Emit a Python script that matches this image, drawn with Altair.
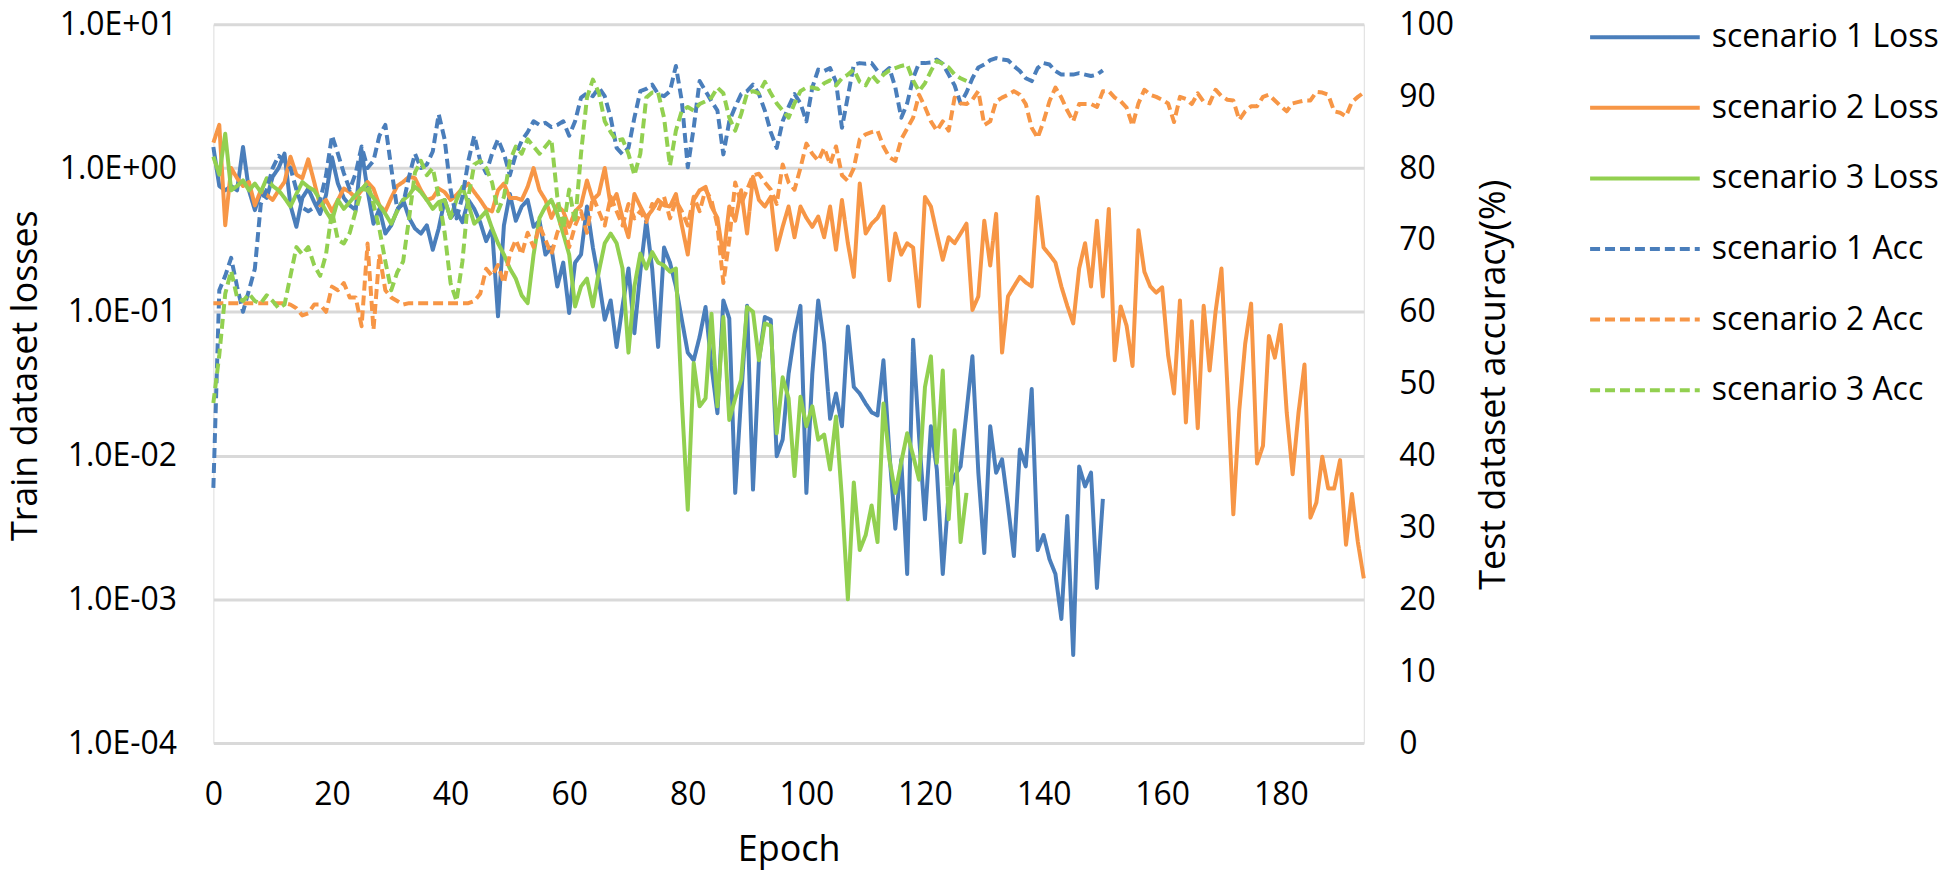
import altair as alt
import pandas as pd

series_names = ["scenario 1 Loss", "scenario 2 Loss", "scenario 3 Loss",
                "scenario 1 Acc", "scenario 2 Acc", "scenario 3 Acc"]
series_colors = ["#4a7ebb", "#f79646", "#92d050", "#4a7ebb", "#f79646", "#92d050"]
series_dashes = [[1, 0], [1, 0], [1, 0], [10, 5], [10, 5], [10, 5]]

loss_ticks = [1e-4, 1e-3, 1e-2, 1e-1, 1, 10]
acc_ticks = [0, 10, 20, 30, 40, 50, 60, 70, 80, 90, 100]
epoch_ticks = [0, 20, 40, 60, 80, 100, 120, 140, 160, 180]

# scenario 1 loss, epochs 0..150
s1_loss = [
    1.4, 0.75, 0.7, 0.75, 0.7, 1.4, 0.7, 0.51, 0.68, 0.62,
    0.87, 1.0, 1.26, 0.55, 0.39, 0.62, 0.72, 0.58, 0.48, 0.65,
    1.19, 0.78, 0.62, 0.55, 0.51, 1.33, 0.7, 0.41, 0.52, 0.35,
    0.4, 0.51, 0.6, 0.45, 0.38, 0.35, 0.4, 0.27, 0.38, 0.6,
    0.45, 0.5, 0.42, 0.6, 0.52, 0.42, 0.31, 0.38, 0.093, 0.4,
    0.66, 0.43, 0.54, 0.6, 0.39, 0.43, 0.25, 0.28, 0.15, 0.22,
    0.098, 0.22, 0.25, 0.54, 0.28, 0.166, 0.088, 0.12, 0.057, 0.11,
    0.2, 0.071, 0.19, 0.43, 0.2, 0.057, 0.28, 0.22, 0.15, 0.088,
    0.052, 0.046, 0.067, 0.108, 0.042, 0.0197, 0.12, 0.09, 0.0055, 0.0257,
    0.11, 0.0058, 0.046, 0.092, 0.088, 0.0099, 0.0129, 0.037, 0.07, 0.11,
    0.0055, 0.037, 0.12, 0.06, 0.018, 0.027, 0.016, 0.079, 0.03, 0.027,
    0.023, 0.02, 0.019, 0.046, 0.0104, 0.0031, 0.0094, 0.0015, 0.064, 0.0136,
    0.0036, 0.016, 0.008, 0.0015, 0.0055, 0.0072, 0.0084, 0.02, 0.049, 0.0076,
    0.0021, 0.016, 0.0076, 0.0094, 0.0045, 0.002, 0.011, 0.0084, 0.029, 0.0022,
    0.0028, 0.0019, 0.0015, 0.00073, 0.0038, 0.00041, 0.0084, 0.0061, 0.0076, 0.0012, 0.005,
]

# scenario 2 loss, epochs 0..194
s2_loss = [
    1.5, 2.0, 0.4, 1.0, 0.85, 0.75, 0.8, 0.55, 0.7, 0.65,
    0.6, 0.7, 0.8, 1.2, 0.9, 0.85, 1.15, 0.8, 0.55, 0.6,
    0.5, 0.6, 0.72, 0.68, 0.62, 0.7, 0.8, 0.72, 0.55, 0.5,
    0.62, 0.75, 0.8, 0.87, 0.85, 0.7, 0.6, 0.62, 0.72, 0.68,
    0.6, 0.65, 0.72, 0.78, 0.68, 0.6, 0.52, 0.5, 0.7, 0.78,
    0.62, 0.62, 0.6, 0.74, 1.0, 0.7, 0.6, 0.45, 0.55, 0.5,
    0.39, 0.5, 0.55, 0.82, 0.6, 0.66, 1.0, 0.55, 0.66, 0.45,
    0.33, 0.66, 0.54, 0.45, 0.51, 0.6, 0.55, 0.54, 0.66, 0.4,
    0.25, 0.6, 0.7, 0.74, 0.54, 0.45, 0.24, 0.54, 0.43, 0.7,
    0.35, 0.87, 0.6, 0.54, 0.63, 0.27, 0.39, 0.54, 0.33, 0.54,
    0.45, 0.39, 0.46, 0.33, 0.54, 0.27, 0.6, 0.3, 0.175, 0.78,
    0.35, 0.41, 0.45, 0.54, 0.166, 0.35, 0.25, 0.3, 0.28, 0.109,
    0.63, 0.54, 0.35, 0.23, 0.33, 0.3, 0.35, 0.41, 0.103, 0.128,
    0.43, 0.21, 0.48, 0.052, 0.128, 0.15, 0.175, 0.16, 0.15, 0.63,
    0.28, 0.25, 0.22, 0.15, 0.11, 0.083, 0.2, 0.3, 0.15, 0.43,
    0.128, 0.52, 0.046, 0.109, 0.08, 0.042, 0.37, 0.19, 0.15, 0.136,
    0.148, 0.05, 0.027, 0.12, 0.017, 0.086, 0.0155, 0.11, 0.039, 0.1,
    0.2, 0.03, 0.0039, 0.0206, 0.06, 0.114, 0.0088, 0.0117, 0.068, 0.048,
    0.081, 0.02, 0.0074, 0.02, 0.043, 0.0037, 0.0047, 0.0098, 0.0059, 0.0059,
    0.0093, 0.0024, 0.0054, 0.0025, 0.0014,
]

# scenario 3 loss, epochs 0..127
s3_loss = [
    1.2, 0.9, 1.73, 0.7, 0.75, 0.82, 0.7, 0.78, 0.68, 0.85,
    0.75, 0.7, 0.62, 0.54, 0.66, 0.8, 0.74, 0.7, 0.6, 0.5,
    0.43, 0.6, 0.52, 0.58, 0.65, 0.72, 0.7, 0.62, 0.55, 0.48,
    0.41, 0.5, 0.6, 0.65, 0.74, 0.68, 0.6, 0.52, 0.58, 0.6,
    0.45, 0.6, 0.74, 0.56, 0.41, 0.45, 0.5, 0.38, 0.3, 0.25,
    0.2, 0.17, 0.13, 0.115, 0.25, 0.45, 0.54, 0.6, 0.48, 0.35,
    0.25, 0.109, 0.15, 0.17, 0.109, 0.19, 0.3, 0.35, 0.3, 0.2,
    0.052, 0.15, 0.254, 0.2, 0.26, 0.22, 0.21, 0.19, 0.2, 0.024,
    0.0042, 0.044, 0.022, 0.025, 0.097, 0.022, 0.092, 0.0177, 0.025, 0.0336,
    0.108, 0.1, 0.046, 0.083, 0.08, 0.0143, 0.035, 0.025, 0.0072, 0.0257,
    0.016, 0.022, 0.0129, 0.014, 0.008, 0.0187, 0.005, 0.001, 0.0065, 0.0022,
    0.0028, 0.0045, 0.0025, 0.023, 0.0094, 0.0055, 0.009, 0.0143, 0.01, 0.0068,
    0.03, 0.049, 0.0089, 0.039, 0.0036, 0.015, 0.0025, 0.0055,
]

# scenario 1 accuracy (%), epochs 0..150
s1_acc = [
    35.5, 63, 65, 67.5, 63.5, 60, 63, 66, 75, 77,
    80, 81.7, 81, 80, 77, 74.5, 74, 74.5, 75.5, 79,
    84.5, 82, 79.3, 77, 79.3, 83, 80, 81, 84.5, 86,
    80, 74.3, 75, 78.8, 82, 80, 80.5, 82.3, 87.5, 84,
    77, 73, 76, 81, 84.5, 81, 79.3, 82, 84, 82,
    79, 81.9, 83.8, 85, 86.5, 86, 86.3, 85.7, 86, 86.5,
    84.5, 86.5, 89.8, 90.4, 90, 91.2, 90, 87, 82.8, 81.9,
    82.8, 87, 90.7, 91, 91.6, 90.3, 90, 90.7, 94.2, 89.3,
    80.1, 85.6, 92.1, 90.7, 89.3, 88, 81.9, 86.5, 88.5, 90.3,
    90.7, 91.6, 90.3, 88, 85, 82.8, 86.5, 88.5, 90.3, 89,
    86.5, 91.2, 93.7, 93.5, 93.9, 92, 85.6, 90, 94.4, 94.6,
    94.5, 94.6, 93.5, 93.2, 93.9, 91.2, 87, 89, 92.5, 94.6,
    94.6, 94.7, 95.1, 94.5, 93, 91.5, 89, 90.5, 92.5, 94,
    94.4, 95, 95.3, 95.1, 95, 94.2, 93.5, 92.5, 92.1, 93.9,
    94.6, 94.4, 93.5, 93, 93, 93, 93.2, 93, 92.8, 93, 93.6,
]

# scenario 2 accuracy (%), epochs 0..194
s2_acc = [
    61.2, 61.2, 61.2, 61.2, 61.2, 61.2, 61.2, 61.2, 61.2, 61.2,
    61.2, 61.2, 61.2, 61, 60.5, 59.5, 59.8, 61, 61, 60,
    63.5, 63, 64, 62, 62, 58, 69.5, 57.5, 68, 63,
    62, 61.5, 61, 61.2, 61.2, 61.2, 61.2, 61.2, 61.2, 61.2,
    61.2, 61.2, 61.2, 61.2, 61.5, 62.5, 66, 65, 66.5, 64,
    68, 70, 68, 71, 69, 72, 70, 68, 71, 73,
    69, 72, 74, 71, 76, 74, 72, 76, 74, 72,
    75, 73, 74, 72.5, 75, 74, 76, 73, 75.5, 74,
    72, 76, 74, 77, 75.5, 72, 64, 70, 78, 75,
    77, 79, 79.2, 78, 77, 75, 80.5, 78, 77, 80,
    83.4, 82, 81, 82.8, 80.5, 83, 79, 78.2, 80, 84,
    84.7, 85, 85.2, 83, 81.5, 81, 84, 85.5, 87, 90.2,
    88.5, 86.5, 85.2, 86.5, 85.2, 89.8, 89, 88.9, 89.5, 90.7,
    86, 86.5, 89.3, 89.8, 90.2, 90.7, 90.2, 88.9, 85.6, 84.2,
    86.5, 89.3, 91.2, 89.8, 88, 86.5, 88.9, 88.9, 88.9, 88.5,
    90.7, 90.7, 89.8, 89.3, 88.4, 85.9, 89, 90.9, 90.2, 89.9,
    89.5, 89, 86.4, 89.9, 89.6, 88.9, 90.4, 89.2, 89, 90.9,
    90, 89.5, 89.4, 86.7, 87.9, 88.6, 88.6, 89.9, 90.2, 89.4,
    88.6, 87.9, 89, 89.2, 89.4, 89.4, 90.6, 90.5, 90.2, 87.9,
    87.7, 87.2, 89.2, 89.9, 90.5,
]

# scenario 3 accuracy (%), epochs 0..127
s3_acc = [
    47.3, 54, 62.5, 65.7, 62, 61.5, 62.5, 61.5, 61.2, 62.3,
    61.5, 60.5, 61, 65, 69, 68, 69, 66.5, 65, 68,
    74, 70, 69.5, 71, 74, 77, 78, 75, 71.5, 67,
    63, 65.5, 67, 73, 79.4, 81, 79, 80, 76, 71,
    64, 61.5, 67, 76, 80.5, 81, 80, 78, 74, 76,
    81, 83, 82, 84, 83, 82, 83, 84, 76, 71.5,
    77, 72.4, 82, 89.8, 92.3, 90.5, 86.5, 85, 83.8, 84,
    82, 79, 82, 89.8, 90.5, 90.5, 87, 80.3, 85.2, 88,
    88.5, 88, 88.9, 89.3, 89.8, 91.2, 90.4, 87, 85.2, 87.5,
    90.4, 90.7, 90.4, 92, 90.4, 89, 88, 87, 89, 90.7,
    91.2, 91.2, 91, 91.8, 92.2, 91.5, 92.5, 93, 93.7, 92,
    91.5, 93, 92, 93, 93.6, 93.9, 94.2, 94.4, 92.2, 90.7,
    91.8, 93.5, 94.9, 94.5, 94, 93, 92.5, 92.1,
]


def long_frame(pairs):
    rows = []
    for name, vals in pairs:
        for i, v in enumerate(vals):
            rows.append({"series": name, "epoch": i, "value": v})
    return pd.DataFrame(rows)


loss_df = long_frame([(series_names[0], s1_loss), (series_names[1], s2_loss), (series_names[2], s3_loss)])
acc_df = long_frame([(series_names[3], s1_acc), (series_names[4], s2_acc), (series_names[5], s3_acc)])
legend_df = pd.DataFrame({"series": series_names})

FONT = "Open Sans"
color_scale = alt.Scale(domain=series_names, range=series_colors)
dash_scale = alt.Scale(domain=series_names, range=series_dashes)

x_enc = alt.X(
    "epoch:Q",
    scale=alt.Scale(domain=[0, 194], nice=False, zero=False),
    axis=alt.Axis(values=epoch_ticks, title="Epoch", grid=False, domain=False, ticks=False,
                  labelPadding=37, labelFlush=False, labelOverlap=False,
                  labelFont=FONT, titleFont=FONT, labelFontWeight="normal", titleFontWeight="normal",
                  labelFontSize=32, titleFontSize=36, titleY=118, titleBaseline="alphabetic",
                  labelColor="black", titleColor="black"),
)

loss_layer = alt.Chart(loss_df).mark_line(strokeWidth=4, strokeJoin="round", strokeCap="butt").encode(
    x=x_enc,
    y=alt.Y("value:Q",
            scale=alt.Scale(type="log", domain=[1e-4, 10], nice=False),
            axis=alt.Axis(values=loss_ticks,
                          labelExpr="'1.0E' + (datum.value >= 1 ? '+' : '-') + '0' + abs(round(log(datum.value) / LN10))",
                          grid=True, gridColor="#d9d9d9", gridWidth=3, domain=False, ticks=False,
                          labelPadding=37, labelFontSize=32,
                          labelFont=FONT, titleFont=FONT, labelFontWeight="normal", titleFontWeight="normal",
                          labelColor="black", titleColor="black",
                          title="Train dataset losses", titleFontSize=36, titleAngle=270,
                          titleX=-177, titleY=352, titleBaseline="alphabetic", titleAlign="center")),
    color=alt.Color("series:N", scale=color_scale, legend=None),
    strokeDash=alt.StrokeDash("series:N", scale=dash_scale, legend=None),
)

acc_layer = alt.Chart(acc_df).mark_line(strokeWidth=4, strokeJoin="round", strokeCap="butt").encode(
    x=x_enc,
    y=alt.Y("value:Q",
            scale=alt.Scale(domain=[0, 100], nice=False),
            axis=alt.Axis(orient="right", values=acc_ticks, grid=False, domain=False, ticks=False,
                          labelPadding=35, labelFontSize=32,
                          labelFont=FONT, titleFont=FONT, labelFontWeight="normal", titleFontWeight="normal",
                          labelColor="black", titleColor="black",
                          title="Test dataset accuracy(%)", titleFontSize=36, titleAngle=270,
                          titleX=141, titleY=361, titleBaseline="alphabetic", titleAlign="center")),
    color=alt.Color("series:N", scale=color_scale, legend=None),
    strokeDash=alt.StrokeDash("series:N", scale=dash_scale, legend=None),
)

legend_y = alt.Y("series:N", sort=series_names, axis=None,
                 scale=alt.Scale(type="point", domain=series_names, range=[13, 367], padding=0))

legend_rules = alt.Chart(legend_df).mark_rule(strokeWidth=4).encode(
    x=alt.value(1381), x2=alt.value(1491), y=legend_y,
    color=alt.Color("series:N", scale=color_scale, legend=None),
    strokeDash=alt.StrokeDash("series:N", scale=dash_scale, legend=None),
)

legend_text = alt.Chart(legend_df).mark_text(align="left", baseline="middle", fontSize=32,
                                              font=FONT, color="black").encode(
    x=alt.value(1503), y=legend_y, text="series:N",
)

chart = alt.layer(loss_layer, acc_layer, legend_rules, legend_text).resolve_scale(
    y="independent"
).properties(
    width=1154, height=721,
    padding={"left": 206, "top": 15, "right": 580, "bottom": 132},
    autosize=alt.AutoSizeParams(type="none"),
).configure_view(stroke=None).configure_axis(
    labelFont=FONT, titleFont=FONT, labelColor="black", titleColor="black", titleFontWeight="normal"
).configure(background="white")

chart.save("out.html", embed_options={"renderer": "svg", "actions": False})
